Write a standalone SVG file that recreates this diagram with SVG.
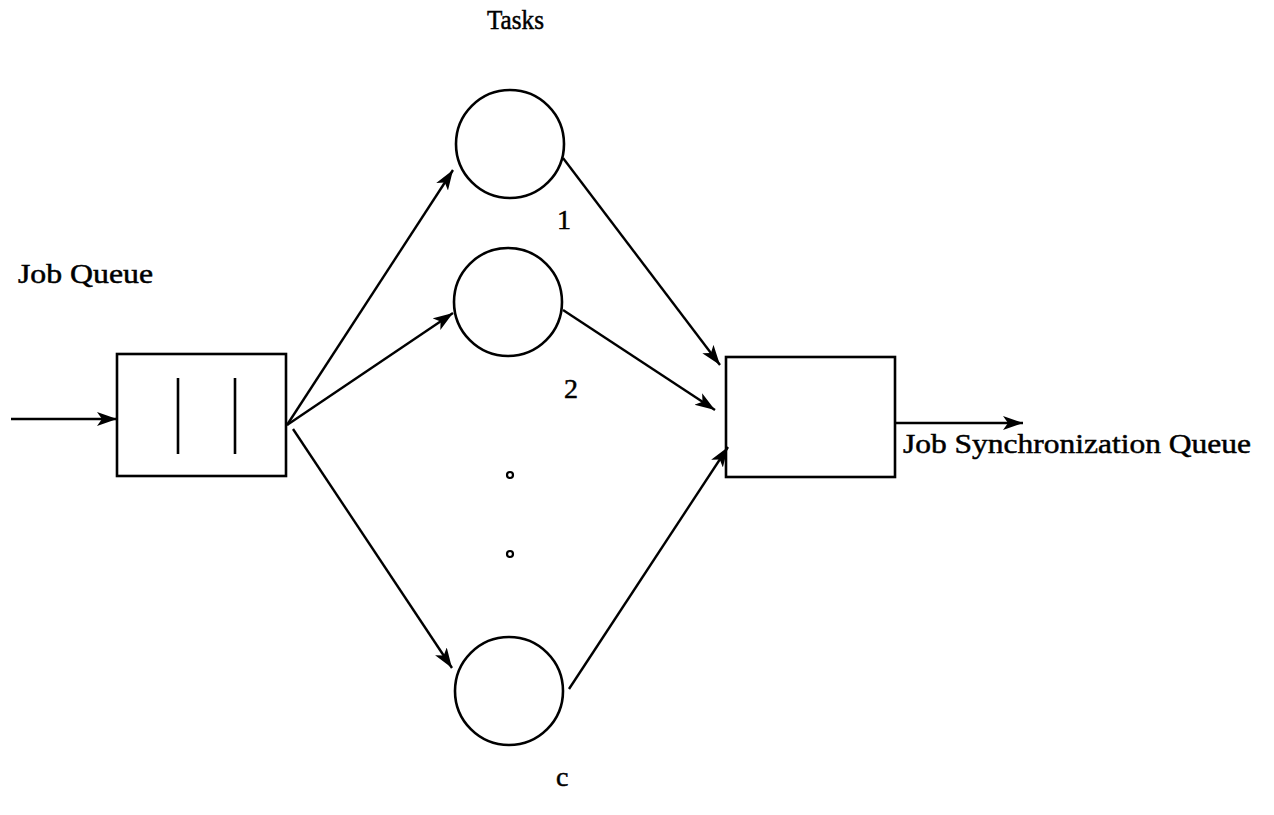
<svg xmlns="http://www.w3.org/2000/svg" width="1274" height="815" viewBox="0 0 1274 815">
  <style>
    .shape { fill: none; stroke: #000; stroke-width: 2.6; }
    .edge { fill: none; stroke: #000; stroke-width: 2.4; marker-end: url(#head); }
    .plain { fill: none; stroke: #000; stroke-width: 2.2; }
    .label { font-family: "Liberation Serif", "DejaVu Serif", serif; font-size: 28px; fill: #000; stroke: #000; stroke-width: 0.5; }
  </style>
  <defs>
    <marker id="head" markerUnits="userSpaceOnUse" markerWidth="22" markerHeight="16" refX="20" refY="7" orient="auto">
      <path d="M0,0 L20,7 L0,14 L5,7 Z" fill="#000"/>
    </marker>
  </defs>
  <rect width="1274" height="815" fill="#fff"/>

  <!-- caption above the task column -->
  <text class="label" x="487" y="29" textLength="57" lengthAdjust="spacingAndGlyphs">Tasks</text>

  <!-- job queue with its two waiting jobs -->
  <g id="job-queue">
    <rect class="shape" x="117" y="354" width="169" height="122"/>
    <line class="shape" x1="178" y1="378" x2="178" y2="454"/>
    <line class="shape" x1="235" y1="378" x2="235" y2="454"/>
    <text class="label" x="18" y="283" textLength="135" lengthAdjust="spacingAndGlyphs">Job Queue</text>
  </g>

  <!-- parallel task servers -->
  <g id="task-1">
    <circle class="shape" cx="510" cy="144" r="54"/>
    <text class="label" x="557" y="229">1</text>
  </g>
  <g id="task-2">
    <circle class="shape" cx="508" cy="302" r="54"/>
    <text class="label" x="564" y="398">2</text>
  </g>
  <g id="ellipsis">
    <circle class="plain" cx="510" cy="475" r="3"/>
    <circle class="plain" cx="510" cy="554" r="3"/>
  </g>
  <g id="task-c">
    <circle class="shape" cx="509" cy="691" r="54"/>
    <text class="label" x="556" y="786">c</text>
  </g>

  <!-- synchronization queue where tasks rejoin -->
  <g id="sync-queue">
    <rect class="shape" x="726" y="357" width="169" height="120"/>
    <text class="label" x="903" y="453" textLength="348" lengthAdjust="spacingAndGlyphs">Job Synchronization Queue</text>
  </g>

  <g id="connectors">
    <line class="edge" x1="11" y1="419" x2="117" y2="419"/>
    <line class="edge" x1="287" y1="425" x2="453" y2="170"/>
    <line class="edge" x1="287" y1="425" x2="453" y2="313"/>
    <line class="edge" x1="293" y1="429" x2="452" y2="668"/>
    <line class="edge" x1="563" y1="158" x2="720" y2="365"/>
    <line class="edge" x1="563" y1="310" x2="715" y2="410"/>
    <line class="edge" x1="569" y1="689" x2="728" y2="447"/>
    <line class="edge" x1="895" y1="423" x2="1023" y2="423"/>
  </g>
</svg>
